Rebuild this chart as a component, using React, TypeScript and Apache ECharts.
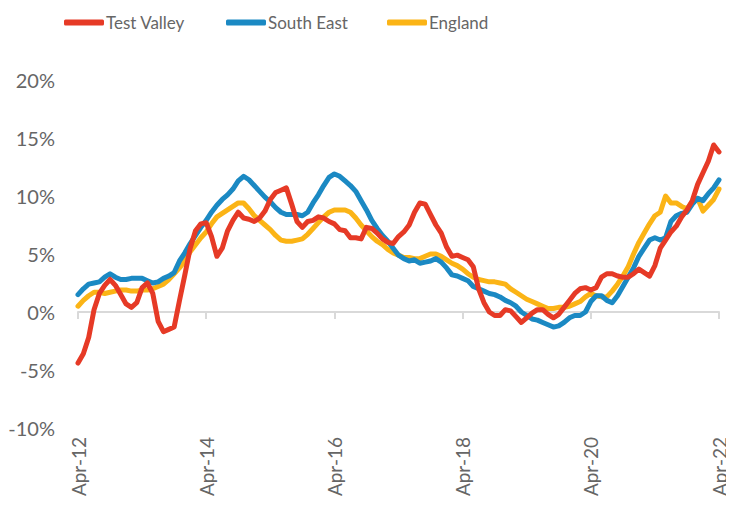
import React, { useEffect, useRef } from "react";
import * as echarts from "echarts";

const MONTHS = ["Jan", "Feb", "Mar", "Apr", "May", "Jun", "Jul", "Aug", "Sep", "Oct", "Nov", "Dec"];
const categories: string[] = [];
for (let k = 0; k <= 120; k++) {
  const m = (3 + k) % 12;
  const y = 12 + Math.floor((3 + k) / 12);
  categories.push(`${MONTHS[m]}-${String(y).padStart(2, "0")}`);
}

const testValley = [
  -4.4, -3.6, -2.2, 0.2, 1.6, 2.3, 2.8, 2.3, 1.5, 0.7,
  0.4, 0.8, 2.1, 2.5, 1.6, -0.8, -1.7, -1.5, -1.3, 1.0,
  3.2, 5.5, 7.0, 7.6, 7.7, 6.5, 4.8, 5.5, 7.0, 7.9,
  8.6, 8.1, 8.0, 7.8, 8.1, 8.7, 9.7, 10.3, 10.5, 10.7,
  9.3, 7.8, 7.3, 7.8, 7.9, 8.2, 8.1, 7.8, 7.6, 7.1,
  7.0, 6.4, 6.4, 6.3, 7.3, 7.2, 6.8, 6.3, 6.0, 5.9,
  6.5, 6.9, 7.5, 8.6, 9.4, 9.3, 8.4, 7.5, 6.8, 5.6,
  4.8, 4.9, 4.7, 4.5, 3.9, 2.0, 0.8, 0.0, -0.3, -0.3,
  0.2, 0.1, -0.4, -0.9, -0.5, -0.1, 0.2, 0.2, -0.2, -0.5,
  -0.2, 0.4, 1.0, 1.6, 2.0, 2.1, 1.9, 2.1, 3.0, 3.3,
  3.3, 3.1, 3.0, 3.0, 3.3, 3.7, 3.4, 3.1, 4.0, 5.5,
  6.2, 6.9, 7.4, 8.2, 8.8, 9.6, 11.0, 12.0, 13.0, 14.4,
  13.8,
];

const southEast = [
  1.5, 2.0, 2.4, 2.5, 2.6, 3.0, 3.3, 3.0, 2.8, 2.8,
  2.9, 2.9, 2.9, 2.7, 2.5, 2.6, 2.9, 3.1, 3.4, 4.4,
  5.1, 5.9, 6.6, 7.3, 7.9, 8.6, 9.2, 9.7, 10.1, 10.6,
  11.3, 11.7, 11.4, 10.9, 10.4, 9.9, 9.5, 9.0, 8.6, 8.4,
  8.4, 8.4, 8.3, 8.6, 9.4, 10.1, 10.9, 11.6, 11.9, 11.7,
  11.3, 10.9, 10.4, 9.6, 8.8, 7.9, 7.2, 6.6, 6.1, 5.5,
  4.9, 4.6, 4.4, 4.5, 4.2, 4.3, 4.4, 4.6, 4.3, 3.8,
  3.2, 3.1, 2.9, 2.7, 2.2, 2.0, 1.8, 1.6, 1.5, 1.3,
  1.0, 0.8, 0.5, 0.0, -0.3, -0.6, -0.7, -0.9, -1.1, -1.3,
  -1.2, -0.9, -0.5, -0.3, -0.3, 0.0, 0.9, 1.4, 1.4, 1.0,
  0.8, 1.4, 2.2, 3.0, 3.8, 4.8, 5.5, 6.2, 6.4, 6.2,
  6.4, 7.8, 8.3, 8.5, 8.6, 9.3, 9.8, 9.6, 10.2, 10.7,
  11.4,
];

const england = [
  0.5, 1.0, 1.4, 1.7, 1.7, 1.6, 1.7, 1.8, 1.9, 1.9,
  1.8, 1.8, 1.9, 1.9, 2.0, 2.2, 2.4, 2.8, 3.3, 3.8,
  4.4, 5.2, 5.8, 6.4, 6.9, 7.6, 8.2, 8.5, 8.8, 9.1,
  9.4, 9.4, 8.9, 8.3, 7.9, 7.5, 7.1, 6.6, 6.2, 6.1,
  6.1, 6.2, 6.3, 6.7, 7.2, 7.7, 8.2, 8.6, 8.8, 8.8,
  8.8, 8.6, 8.1, 7.5, 7.0, 6.5, 6.1, 5.8, 5.4, 5.1,
  4.9, 4.7, 4.7, 4.6, 4.6, 4.8, 5.0, 5.0, 4.8, 4.5,
  4.2, 4.0, 3.7, 3.3, 3.0, 2.8, 2.7, 2.6, 2.6, 2.5,
  2.4, 2.0, 1.7, 1.4, 1.1, 0.9, 0.7, 0.5, 0.3, 0.3,
  0.4, 0.4, 0.5, 0.7, 0.9, 1.3, 1.6, 1.4, 1.3, 1.3,
  1.8, 2.4, 3.1, 3.9, 5.0, 6.0, 6.8, 7.6, 8.3, 8.6,
  10.0, 9.4, 9.4, 9.1, 8.9, 9.5, 9.8, 8.7, 9.2, 9.7,
  10.6,
];

const seriesNames = ["Test Valley", "South East", "England"];
const yTicks = { min: -10, max: 20, interval: 5 };

const FONT = "Lato, 'Open Sans', sans-serif";
const GREY = "#666666";
const COLORS = { tv: "#E63A26", se: "#1B89C3", en: "#FBB416" };

export default function App() {
  const ref = useRef<HTMLDivElement>(null);
  useEffect(() => {
    if (!ref.current) return;
    const chart = echarts.init(ref.current, null, { renderer: "svg" });
    const mk = (name: string, data: number[], color: string) => ({
      name,
      type: "line",
      data,
      xAxisIndex: 0,
      yAxisIndex: 0,
      showSymbol: false,
      symbol: "none",
      lineStyle: { color, width: 5, cap: "round", join: "round" },
      itemStyle: { color },
      z: 3,
    });
    const legendLefts = [59, 221, 382];
    const legends = seriesNames.map((n, i) => ({
      top: 9,
      left: legendLefts[i],
      itemWidth: 40,
      itemHeight: 6,
      icon: "roundRect",
      textStyle: { color: GREY, fontSize: 17, fontFamily: FONT, padding: [0, 0, 0, -3] },
      data: [n],
    }));
    chart.setOption({
      animation: false,
      backgroundColor: "#ffffff",
      textStyle: { fontFamily: FONT },
      legend: legends,
      grid: { left: 78, right: 15, top: 80, bottom: 80, containLabel: false },
      xAxis: [
        {
          type: "category",
          data: categories,
          boundaryGap: false,
          position: "bottom",
          axisLine: { show: false, onZero: false },
          axisTick: { show: false },
          splitLine: { show: false },
          axisLabel: {
            interval: 23,
            rotate: 90,
            margin: 9,
            color: GREY,
            fontSize: 19,
            fontFamily: FONT,
          },
        },
        {
          type: "category",
          data: categories,
          boundaryGap: false,
          position: "bottom",
          axisLine: { show: true, onZero: true, lineStyle: { color: "#d9d9d9", width: 2 } },
          axisTick: { show: true, interval: 23, length: 7, lineStyle: { color: "#d9d9d9", width: 2 } },
          axisLabel: { show: false },
          splitLine: { show: false },
        },
      ],
      yAxis: {
        type: "value",
        min: yTicks.min,
        max: yTicks.max,
        interval: yTicks.interval,
        axisLine: { show: false },
        axisTick: { show: false },
        splitLine: { show: false },
        axisLabel: {
          formatter: "{value}%",
          color: GREY,
          fontSize: 20,
          fontFamily: FONT,
          margin: 23,
        },
      },
      series: [
        mk("England", england, COLORS.en),
        mk("South East", southEast, COLORS.se),
        mk("Test Valley", testValley, COLORS.tv),
      ],
    });
    return () => chart.dispose();
  }, []);
  return <div ref={ref} style={{ width: 734, height: 508, margin: -8 }} />;
}
